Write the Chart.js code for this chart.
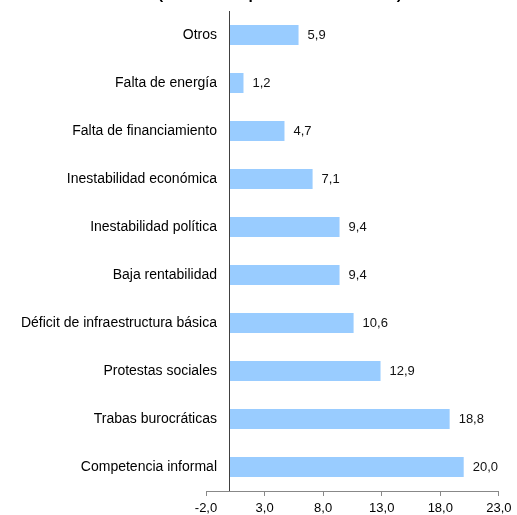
<!DOCTYPE html>
<html>
<head>
<meta charset="utf-8">
<script src="https://cdn.jsdelivr.net/npm/chart.js@4"></script>
<style>
  html, body { margin: 0; padding: 0; background: #ffffff; }
  #wrap { width: 517px; height: 515px; }
</style>
</head>
<body>
<div id="wrap"><canvas id="c" width="517" height="515"></canvas></div>
<script>
const categories = [
  "Otros",
  "Falta de energía",
  "Falta de financiamiento",
  "Inestabilidad económica",
  "Inestabilidad política",
  "Baja rentabilidad",
  "Déficit de infraestructura básica",
  "Protestas sociales",
  "Trabas burocráticas",
  "Competencia informal"
];
const values = [5.9, 1.2, 4.7, 7.1, 9.4, 9.4, 10.6, 12.9, 18.8, 20.0];
const xTicks = [-2, 3, 8, 13, 18, 23];
const titleText = "(en % de empresas encuestadas)";

const FONT = 'Arial, "Liberation Sans", sans-serif';
const fmt = v => Number(v).toFixed(1).replace('.', ',');

// width of the widest category label, so labels can be right-aligned near the zero line
const mctx = document.createElement('canvas').getContext('2d');
mctx.font = '14px ' + FONT;
const widestLabel = Math.max(...categories.map(c => mctx.measureText(c).width));
const labelGap = 11; // labels end 11px right of the chart area's left edge

const titlePlugin = {
  id: 'cutTitle',
  afterDraw(chart) {
    const ctx = chart.ctx;
    ctx.save();
    ctx.font = 'bold 15.5px ' + FONT;
    ctx.fillStyle = '#000';
    ctx.textAlign = 'center';
    ctx.textBaseline = 'alphabetic';
    ctx.fillText(titleText, 280, -1.5);
    ctx.restore();
  }
};

const zeroLine = {
  id: 'zeroLine',
  afterDatasetsDraw(chart) {
    const x = Math.round(chart.scales.x.getPixelForValue(0)) + 0.5;
    const a = chart.chartArea;
    const ctx = chart.ctx;
    ctx.save();
    ctx.strokeStyle = '#404040';
    ctx.lineWidth = 1;
    ctx.beginPath();
    ctx.moveTo(x, a.top);
    ctx.lineTo(x, a.bottom);
    ctx.stroke();
    ctx.restore();
  }
};

const valueLabels = {
  id: 'valueLabels',
  afterDatasetsDraw(chart) {
    const ctx = chart.ctx;
    const meta = chart.getDatasetMeta(0);
    ctx.save();
    ctx.font = '13px ' + FONT;
    ctx.fillStyle = '#111';
    ctx.textAlign = 'left';
    ctx.textBaseline = 'middle';
    meta.data.forEach((bar, i) => {
      ctx.fillText(fmt(chart.data.datasets[0].data[i]), bar.x + 9, bar.y);
    });
    ctx.restore();
  }
};

new Chart(document.getElementById('c'), {
  type: 'bar',
  data: {
    labels: categories,
    datasets: [{
      data: values,
      backgroundColor: '#99CCFF',
      borderWidth: 0,
      barPercentage: 0.42,
      categoryPercentage: 1.0
    }]
  },
  options: {
    indexAxis: 'y',
    responsive: false,
    animation: false,
    events: [],
    layout: { padding: { top: 11, bottom: 0.5, left: 206, right: 14 } },
    plugins: {
      legend: { display: false },
      title: { display: false },
      tooltip: { enabled: false }
    },
    scales: {
      x: {
        type: 'linear',
        min: -2,
        max: 23,
        afterBuildTicks(scale) {
          scale.ticks = xTicks.map(v => ({ value: v }));
        },
        afterFit(scale) { scale.height = 5 + 5.5 + 13; },
        grid: {
          drawOnChartArea: false,
          drawTicks: true,
          tickLength: 5,
          color: '#888'
        },
        border: { display: true, color: '#888' },
        ticks: {
          font: { family: FONT, size: 13, lineHeight: 1 },
          color: '#000',
          padding: 5.5,
          maxRotation: 0,
          autoSkip: false,
          callback: v => fmt(v)
        }
      },
      y: {
        type: 'category',
        position: 'left',
        afterFit(scale) { scale.width = 0; },
        grid: { display: false, drawTicks: false },
        border: { display: false },
        ticks: {
          mirror: true,
          crossAlign: 'far',
          font: { family: FONT, size: 14 },
          color: '#000',
          padding: labelGap - widestLabel
        }
      }
    }
  },
  plugins: [titlePlugin, zeroLine, valueLabels]
});
</script>
</body>
</html>
